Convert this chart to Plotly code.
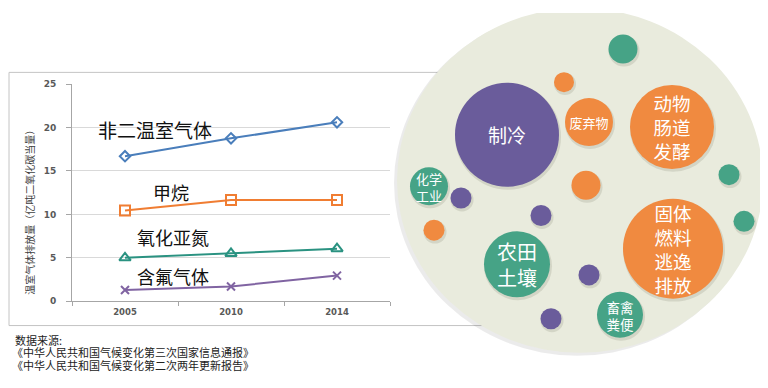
import plotly.graph_objects as go

# ---------------- data ----------------
years = ["2005", "2010", "2014"]
non_co2 = [16.7, 18.75, 20.6]
methane = [10.45, 11.65, 11.65]
n2o = [5.0, 5.5, 6.05]
fgas = [1.3, 1.7, 2.95]
series_names = ["非二温室气体", "甲烷", "氧化亚氮", "含氟气体"]

y_title = "温室气体排放量（亿吨二氧化碳当量）"
source_lines = ["数据来源:", "《中华人民共和国气候变化第三次国家信息通报》", "《中华人民共和国气候变化第二次两年更新报告》"]

# bubble chart (pixel-space coordinates on an auxiliary axis)
bubble_x = [623, 564, 507, 589, 672, 729, 586, 429, 461, 541, 434, 744, 673, 517, 589, 620, 551]
bubble_y = [45, 79, 133, 120, 125, 174, 185, 186, 198, 216, 231, 222, 250, 266, 277, 318, 322]
bubble_d = [29, 20, 104, 48, 84, 21, 29, 38, 21, 21, 21, 21, 100, 66, 21, 46, 21]
bubble_group = ["g", "o", "p", "o", "o", "g", "o", "g", "p", "p", "o", "g", "o", "g", "p", "g", "p"]
bubble_text = ["", "", "制冷", "废弃物", "动物<br>肠道<br>发酵", "", "", "化学<br>工业", "", "", "", "",
               "固体<br>燃料<br>逃逸<br>排放", "农田<br>土壤", "", "畜禽<br>粪便", ""]
bubble_font = [10, 10, 19, 13, 18.5, 10, 10, 13, 10, 10, 10, 10, 18.5, 20, 10, 13.5, 10]

# ---------------- styling ----------------
C_BLUE = "#4a7ebb"
C_ORANGE = "#f07d32"
C_TEAL = "#2a9281"
C_PURPLE = "#8064a2"
group_color = {"g": "#46a386", "o": "#f08a40", "p": "#6a5c9b"}
FONT = "Noto Sans CJK SC"
TICK_FONT = dict(family="DejaVu Sans", size=9, color="#595959", weight="bold")

# page has an 8px body margin; size the figure so it fits the 768x388 window
OFF = 8
PW, PH = 768, 388
W, H = PW - OFF, PH - OFF


def fx(px):
    return (px - OFF) / W


def fy(py):
    return (PH - py) / H


fig = go.Figure()

line_specs = [
    (non_co2, C_BLUE, "diamond-open", 8),
    (methane, C_ORANGE, "square-open", 10),
    (n2o, C_TEAL, "triangle-up-open", 10),
    (fgas, C_PURPLE, "x-thin-open", 8),
]
for name, (vals, col, sym, sz) in zip(series_names, line_specs):
    fig.add_trace(go.Scatter(
        x=years, y=vals, name=name, mode="lines+markers",
        line=dict(color=col, width=2),
        marker=dict(symbol=sym, size=sz, color=col, line=dict(color=col, width=2)),
        xaxis="x", yaxis="y", showlegend=False, cliponaxis=False,
    ))

# series labels placed in data coordinates
label_pos = [(0.28, 19.8, 19), (0.43, 12.6, 18), (0.45, 7.4, 18), (0.45, 2.9, 18)]
annotations = []
for name, (lx, ly, fs) in zip(series_names, label_pos):
    annotations.append(dict(x=lx, y=ly, xref="x", yref="y", text=name, showarrow=False,
                            font=dict(family=FONT, size=fs, color="#111111")))

# bubbles: soft shadows, bubbles, then centred labels
fig.add_trace(go.Scatter(
    x=[v + 1 for v in bubble_x], y=[v + 2 for v in bubble_y], mode="markers",
    marker=dict(size=[d + 2 for d in bubble_d], color="rgba(60,60,40,0.18)", line=dict(width=0)),
    xaxis="x2", yaxis="y2", showlegend=False, hoverinfo="skip", cliponaxis=False,
))
fig.add_trace(go.Scatter(
    x=bubble_x, y=bubble_y, mode="markers",
    marker=dict(size=bubble_d, color=[group_color[g] for g in bubble_group], line=dict(width=0), opacity=1),
    xaxis="x2", yaxis="y2", showlegend=False, cliponaxis=False,
))
# plotly puts a text block ~0.13em above its anchor; nudge it back to the bubble centre
fig.add_trace(go.Scatter(
    x=bubble_x, y=[y + 0.13 * f + 1.5 for y, f in zip(bubble_y, bubble_font)], mode="text",
    text=bubble_text, textposition="middle center",
    textfont=dict(family=FONT, size=bubble_font, color="white"),
    xaxis="x2", yaxis="y2", showlegend=False, hoverinfo="skip", cliponaxis=False,
))

# axis title and source notes
annotations.append(dict(x=30, y=210, xref="x2", yref="y2", text=y_title, textangle=-90, showarrow=False,
                        font=dict(family=FONT, size=10, color="#404040")))
for i, line in enumerate(source_lines):
    annotations.append(dict(x=14 if i == 0 else 11, y=344 + i * 12.5, xref="x2", yref="y2", text=line,
                            xanchor="left", showarrow=False, borderpad=0,
                            font=dict(family=FONT, size=11, color="#222222")))

shapes = [
    # outer frame of the line chart
    dict(type="rect", xref="x2", yref="y2", x0=9, x1=560, y0=69, y1=329,
         line=dict(color="#c4c4c4", width=1), fillcolor="rgba(0,0,0,0)", layer="below"),
    # shadow of big circle
    dict(type="circle", xref="x2", yref="y2", x0=394, x1=760, y0=5, y1=360,
         line=dict(width=0), fillcolor="rgba(0,0,0,0.08)", layer="below"),
    # big background circle
    dict(type="circle", xref="x2", yref="y2", x0=397, x1=763, y0=3, y1=357,
         line=dict(width=0), fillcolor="#e9ebdd", layer="below"),
]

fig.update_layout(
    width=W, height=H,
    margin=dict(l=0, r=0, t=0, b=0),
    paper_bgcolor="white", plot_bgcolor="rgba(0,0,0,0)",
    font=dict(family=FONT),
    annotations=annotations, shapes=shapes,
    xaxis2=dict(domain=[0, 1], range=[OFF, PW], visible=False, fixedrange=True, anchor="y2"),
    yaxis2=dict(domain=[0, 1], range=[PH, OFF], visible=False, fixedrange=True, anchor="x2"),
    xaxis=dict(domain=[fx(72), fx(390)], type="category", categoryorder="array", categoryarray=years,
               range=[-0.5, 2.5], tickson="boundaries", ticks="outside", ticklen=4, tickcolor="#a6a6a6",
               showline=True, linecolor="#a6a6a6", showgrid=False, zeroline=False, ticklabelstandoff=3,
               tickfont=dict(TICK_FONT, size=8.5), anchor="y"),
    yaxis=dict(domain=[fy(304), fy(81)], range=[0, 25], dtick=5, ticks="outside", ticklen=5,
               tickcolor="#a6a6a6", showline=True, linecolor="#a6a6a6", gridcolor="#d9d9d9",
               zeroline=False, ticklabelstandoff=8, tickfont=TICK_FONT, anchor="x"),
)

fig.write_html("out.html")
